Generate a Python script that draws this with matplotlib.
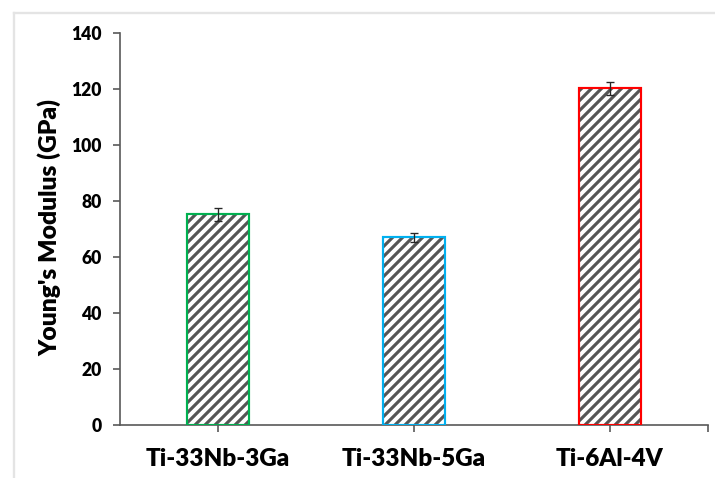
import matplotlib
matplotlib.use("Agg")
import matplotlib.pyplot as plt
from matplotlib.lines import Line2D

# ---- data ----
alloys = ["Ti-33Nb-3Ga", "Ti-33Nb-5Ga", "Ti-6Al-4V"]
modulus = [75.3, 67.0, 120.2]
modulus_err = [2.3, 1.6, 2.3]
edge_colors = ["#00B050", "#00B0F0", "#FF0000"]
y_ticks = [0, 20, 40, 60, 80, 100, 120, 140]

plt.rcParams['font.family'] = ['Lato', 'DejaVu Sans']
plt.rcParams['hatch.linewidth'] = 1.9

DPI = 120
fig = plt.figure(figsize=(715 / DPI, 478 / DPI), dpi=DPI)
ax = fig.add_axes([120 / 715, 1 - 425 / 478, 588 / 715, 392 / 478])

x = list(range(len(alloys)))
width = 0.32
# hatched fill
ax.bar(x, modulus, width=width, color="white", edgecolor="#555555",
       hatch="////", linewidth=0, zorder=2)
# coloured outlines
ax.bar(x, modulus, width=width, fill=False, edgecolor=edge_colors,
       linewidth=1.3, zorder=3)
# error bars
ax.errorbar(x, modulus, yerr=modulus_err, fmt="none", ecolor="#262626",
            elinewidth=0.8, capsize=2.6, capthick=0.8, zorder=4)

ax.set_xlim(-0.5, len(alloys) - 0.5)
ax.set_ylim(0, 140)
ax.set_yticks(y_ticks)
ax.set_yticklabels([str(v) for v in y_ticks], fontsize=10.5, fontweight="heavy")
ax.set_xticks(x + [len(alloys) - 0.5])
ax.set_xticklabels(alloys + [""], fontsize=14.5, fontweight="heavy")

for s in ["top", "right"]:
    ax.spines[s].set_visible(False)
for s in ["left", "bottom"]:
    ax.spines[s].set_color("#595959")
    ax.spines[s].set_linewidth(1.0)

ax.tick_params(axis="y", direction="out", length=4, width=1.0,
               color="#595959", pad=7)
ax.tick_params(axis="x", direction="out", length=4, width=1.0,
               color="#595959", pad=10)

ax.set_ylabel("Young's Modulus (GPa)", fontsize=14.8, fontweight="heavy")
ax.yaxis.set_label_coords(-0.099, 0.505)

# light frame lines (left and top) of the original picture
fig.add_artist(Line2D([14 / 715, 14 / 715], [0, 1 - 13 / 478],
                      transform=fig.transFigure, color="#e4e4e4", lw=1.4))
fig.add_artist(Line2D([14 / 715, 1], [1 - 13 / 478, 1 - 13 / 478],
                      transform=fig.transFigure, color="#e4e4e4", lw=1.4))

fig.savefig("out.png", dpi=DPI)
